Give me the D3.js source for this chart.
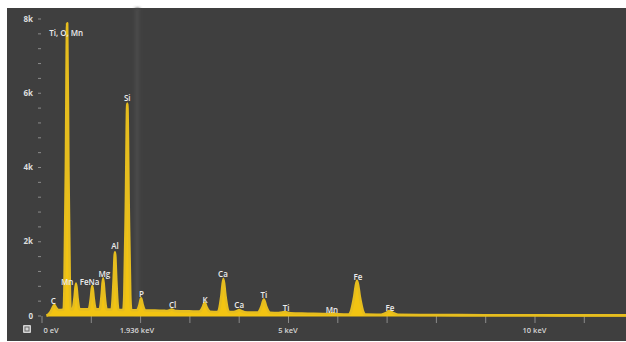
<!DOCTYPE html>
<html>
<head>
<meta charset="utf-8">
<script src="https://cdn.jsdelivr.net/npm/d3@7/dist/d3.min.js"></script>
<style>
  html, body { margin: 0; padding: 0; background: #ffffff; }
  svg { display: block; }
  text { font-family: "Open Sans", "DejaVu Sans", sans-serif; }
</style>
</head>
<body>
<svg id="chart" width="626" height="342"></svg>
<script>
// EDS spectrum outline: [energy in keV, counts]
const spectrum = [
  [0.10, 0], [0.14, 30], [0.18, 90],
  // C
  [0.22, 190], [0.26, 280], [0.30, 200], [0.34, 150], [0.40, 150],
  // O (with Ti L, Mn L)
  [0.45, 160], [0.465, 700], [0.495, 4010], [0.52, 7870], [0.545, 4010], [0.575, 700], [0.59, 170],
  // Fe L / Mn L
  [0.63, 165], [0.645, 230], [0.6725, 510], [0.70, 860], [0.7275, 510], [0.755, 230], [0.775, 165],
  [0.85, 165], [0.95, 165],
  // Na
  [0.96, 165], [0.975, 225], [1.0025, 480], [1.03, 800], [1.0575, 480], [1.085, 225], [1.10, 165],
  // Mg
  [1.18, 165], [1.195, 240], [1.2225, 580], [1.25, 1000], [1.2775, 580], [1.305, 240], [1.32, 165],
  // Al
  [1.42, 155], [1.435, 280], [1.4625, 925], [1.49, 1700], [1.5175, 925], [1.545, 280], [1.56, 155],
  // Si
  [1.66, 150], [1.68, 560], [1.711, 2930], [1.74, 5710], [1.769, 2930], [1.80, 560], [1.82, 150],
  // P
  [1.94, 140], [1.96, 180], [1.99, 300], [2.02, 460], [2.05, 300], [2.08, 180], [2.10, 140],
  [2.30, 130], [2.50, 125],
  // Cl
  [2.55, 120], [2.605, 140], [2.64, 160], [2.675, 140], [2.73, 118],
  [3.00, 110], [3.20, 105],
  // K
  [3.20, 103], [3.23, 130], [3.2725, 227], [3.31, 350], [3.3475, 227], [3.39, 130], [3.42, 102],
  // Ca Ka
  [3.575, 96], [3.605, 175], [3.65, 542], [3.69, 990], [3.73, 542], [3.775, 175], [3.805, 94],
  // Ca Kb
  [3.90, 91], [3.9675, 120], [4.01, 150], [4.0525, 120], [4.12, 88],
  [4.30, 80],
  // Ti Ka
  [4.385, 77], [4.415, 110], [4.465, 252], [4.51, 430], [4.555, 252], [4.605, 110], [4.635, 74],
  // Ti Kb
  [4.81, 65], [4.8825, 78], [4.93, 95], [4.9775, 78], [5.05, 58],
  [5.40, 48], [5.75, 38],
  // Mn
  [5.78, 36], [5.85, 46], [5.90, 60], [5.95, 46], [6.02, 30],
  // Fe Ka
  [6.235, 25], [6.275, 100], [6.34, 483], [6.40, 940], [6.46, 483], [6.525, 100], [6.565, 24],
  [6.80, 22],
  // Fe Kb
  [6.89, 21], [6.995, 70], [7.06, 120], [7.125, 70], [7.23, 19],
  [8.0, 12], [9.0, 8], [10.0, 5], [11.0, 4], [12.0, 3]
];

// Element markers: [label, energy keV, counts at label centre]
const peakLabels = [
  ["Ti, O, Mn", 0.50, 7600],
  ["C", 0.24, 400],
  ["Mn", 0.52, 890],
  ["Fe", 0.865, 890],
  ["Na", 1.065, 890],
  ["Mg", 1.275, 1130],
  ["Al", 1.49, 1860],
  ["Si", 1.74, 5850],
  ["P", 2.03, 590],
  ["Cl", 2.66, 270],
  ["K", 3.32, 430],
  ["Ca", 3.68, 1130],
  ["Ca", 4.01, 270],
  ["Ti", 4.51, 540],
  ["Ti", 4.96, 215],
  ["Mn", 5.89, 160],
  ["Fe", 6.42, 1050],
  ["Fe", 7.07, 190]
];

const yTickValues = d3.range(0, 8001, 400);
const yTickLabels = { 0: "0", 2000: "2k", 4000: "4k", 6000: "6k", 8000: "8k" };
const xTickValues = d3.range(0, 12, 1);
const xTickLabels = [
  [0, "0 eV", "start"],
  [1.936, "1.936 keV", "middle"],
  [5, "5 keV", "middle"],
  [10, "10 keV", "middle"]
];
const cursorKeV = 1.936;

const svg = d3.select("#chart");
const W = 626, H = 342;

const x = d3.scaleLinear().domain([0, 10]).range([41.5, 534.5]);
const y = d3.scaleLinear().domain([0, 8000]).range([315.5, 18.5]);

// panel background
svg.append("rect").attr("x", 7).attr("y", 8).attr("width", W - 7).attr("height", H - 9)
  .attr("fill", "#3f3f3f");

const defs = svg.append("defs");
defs.append("filter").attr("id", "soft").attr("x", "-50%").attr("width", "200%")
  .append("feGaussianBlur").attr("stdDeviation", 1.6);
defs.append("clipPath").attr("id", "plotclip")
  .append("rect").attr("x", 7).attr("y", 8).attr("width", W - 7).attr("height", H - 9);

// cursor band
svg.append("rect")
  .attr("x", x(cursorKeV) - 2).attr("y", 8)
  .attr("width", 5).attr("height", y(0) - 8)
  .attr("fill", "#4a4a4a").attr("filter", "url(#soft)");

// y axis
const yAxis = d3.axisLeft(y).tickValues(yTickValues).tickSize(3).tickPadding(5)
  .tickFormat(d => yTickLabels[d] !== undefined ? yTickLabels[d] : "");
const gy = svg.append("g").attr("transform", `translate(${x(0) - 0.5},0)`).call(yAxis);
gy.select(".domain").remove();
gy.selectAll(".tick line").attr("stroke", "#8c8c8c");
gy.selectAll(".tick text").attr("fill", "#dedede").attr("font-size", 8)
  .attr("font-weight", 700).attr("font-family", "'Open Sans', sans-serif");

// x axis ticks
const xAxis = d3.axisBottom(x).tickValues(xTickValues).tickSize(7).tickFormat("");
const gx = svg.append("g").attr("transform", `translate(0,${y(0) + 0.5})`).call(xAxis);
gx.select(".domain").remove();
gx.selectAll(".tick line").attr("stroke", "#8a8a8a");

// spectrum
const g = svg.append("g").attr("clip-path", "url(#plotclip)");
const area = d3.area()
  .x(d => x(d[0])).y0(y(0) + 1).y1(d => y(d[1]))
  .curve(d3.curveMonotoneX);
const line = d3.line()
  .x(d => x(d[0])).y(d => y(d[1]))
  .curve(d3.curveMonotoneX);
g.append("path").datum(spectrum).attr("d", area).attr("fill", "#f2c412");
g.append("path").datum(spectrum).attr("d", line)
  .attr("fill", "none").attr("stroke", "#e6bd1e").attr("stroke-width", 2.6)
  .attr("stroke-linejoin", "round");

// element labels
svg.append("g").selectAll("text").data(peakLabels).join("text")
  .attr("x", d => x(d[1])).attr("y", d => y(d[2]) + 3)
  .attr("text-anchor", "middle")
  .attr("font-size", 8).attr("font-weight", 600)
  .attr("fill", "#ececec")
  .text(d => d[0]);

// x labels
svg.append("g").selectAll("text").data(xTickLabels).join("text")
  .attr("x", d => d[2] === "start" ? x(d[0]) + 2 : x(d[0]))
  .attr("y", 333)
  .attr("text-anchor", d => d[2])
  .attr("font-size", 7.5).attr("font-weight", 600)
  .attr("fill", "#d6d6d6")
  .text(d => d[1]);

// toolbar icon
const icon = svg.append("g").attr("transform", "translate(23,325)");
icon.append("rect").attr("width", 8).attr("height", 8).attr("rx", 1).attr("fill", "#d4d4d4");
icon.append("rect").attr("x", 2).attr("y", 2).attr("width", 4).attr("height", 4)
  .attr("fill", "none").attr("stroke", "#6a6a6a").attr("stroke-width", 1);
</script>
</body>
</html>
